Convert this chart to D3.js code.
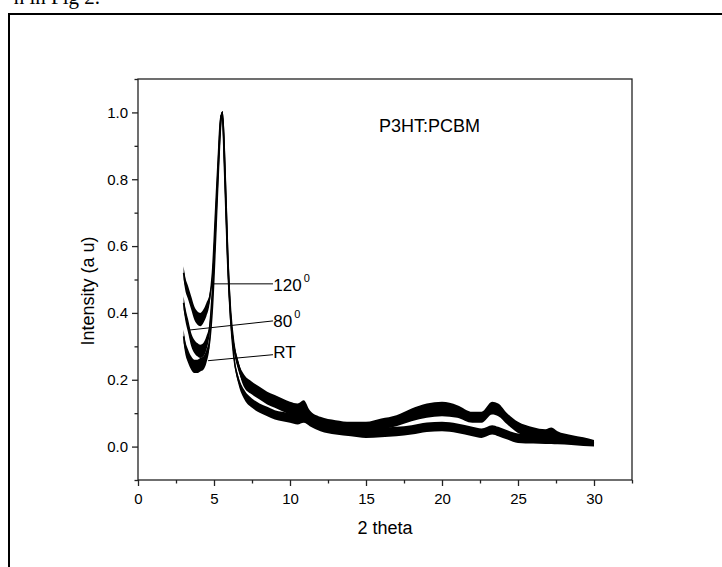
<!DOCTYPE html>
<html>
<head>
<meta charset="utf-8">
<script src="https://cdn.jsdelivr.net/npm/d3@7"></script>
<style>
  body { margin: 0; background: #fff; }
  svg text { font-family: "Liberation Sans", Arial, sans-serif; fill: #000; }
</style>
</head>
<body>
<div id="chart"></div>
<script>
/*
 * XRD patterns of P3HT:PCBM films (RT, 80 and 120 deg anneal)
 */

// 2 theta positions where the traces were read
var twoTheta = [3.0, 3.1, 3.3, 3.5, 3.7, 3.9, 4.1, 4.3, 4.5, 4.7, 4.9, 5.1, 5.3, 5.45, 5.55, 5.7, 5.9, 6.1, 6.3, 6.6,
  7.0, 7.5, 8.0, 8.5, 9.0, 9.5, 10.0, 10.5, 10.9, 11.3, 12, 13, 14, 15, 16, 17, 18, 19, 20, 21, 22, 22.6,
  23.3, 23.7, 24.3, 25, 26, 26.8, 27.2, 27.6, 28.5, 29.3, 30];

var int120 = [0.52, 0.49, 0.46, 0.43, 0.40, 0.385, 0.38, 0.39, 0.41, 0.44, 0.52, 0.70, 0.88, 0.99, 0.99, 0.82, 0.55, 0.38, 0.30, 0.24,
  0.20, 0.18, 0.165, 0.15, 0.14, 0.13, 0.12, 0.115, 0.125, 0.095, 0.075, 0.065, 0.06, 0.06, 0.07, 0.08, 0.10, 0.115, 0.12, 0.11, 0.09, 0.09,
  0.12, 0.115, 0.085, 0.06, 0.045, 0.04, 0.045, 0.035, 0.025, 0.018, 0.012];

var int80 = [0.43, 0.40, 0.36, 0.32, 0.30, 0.29, 0.285, 0.29, 0.31, 0.35, 0.47, 0.66, 0.86, 0.98, 1.0, 0.85, 0.57, 0.40, 0.31, 0.245,
  0.19, 0.17, 0.155, 0.14, 0.13, 0.12, 0.11, 0.105, 0.11, 0.09, 0.07, 0.06, 0.055, 0.055, 0.065, 0.075, 0.09, 0.10, 0.105, 0.10, 0.085, 0.085,
  0.11, 0.105, 0.08, 0.055, 0.04, 0.035, 0.04, 0.03, 0.022, 0.016, 0.01];

var intRT = [0.33, 0.30, 0.27, 0.25, 0.24, 0.24, 0.245, 0.25, 0.27, 0.31, 0.42, 0.62, 0.84, 0.97, 1.0, 0.86, 0.58, 0.38, 0.27, 0.20,
  0.155, 0.13, 0.115, 0.105, 0.095, 0.09, 0.085, 0.08, 0.085, 0.075, 0.06, 0.05, 0.045, 0.04, 0.042, 0.045, 0.05, 0.058, 0.06, 0.055, 0.045, 0.04,
  0.05, 0.045, 0.035, 0.025, 0.022, 0.02, 0.02, 0.018, 0.015, 0.012, 0.008];

// half width of the noise band seen on the traces (intensity units)
var noiseBand = [0.02, 0.02, 0.02, 0.02, 0.02, 0.02, 0.02, 0.02, 0.02, 0.015, 0.005, 0.004, 0.004, 0.004, 0.004, 0.004, 0.004, 0.005, 0.008, 0.012,
  0.014, 0.014, 0.014, 0.014, 0.014, 0.014, 0.014, 0.014, 0.014, 0.014, 0.014, 0.014, 0.014, 0.014, 0.014, 0.014, 0.014, 0.014, 0.014, 0.014, 0.014, 0.014,
  0.014, 0.014, 0.014, 0.014, 0.013, 0.012, 0.012, 0.011, 0.01, 0.01, 0.008];

var seriesNames = ["120", "80", "RT"];
var seriesValues = [int120, int80, intRT];

var xMajor = [0, 5, 10, 15, 20, 25, 30];
var xMinor = [2.5, 7.5, 12.5, 17.5, 22.5, 27.5, 32.5];
var yMajor = [0.0, 0.2, 0.4, 0.6, 0.8, 1.0];
var yMinor = [-0.1, 0.1, 0.3, 0.5, 0.7, 0.9, 1.1];

// leader lines [x1, y1, x2, y2] and label anchors, in data units
var leaderLines = [[4.93, 0.487, 8.88, 0.487], [3.42, 0.349, 8.88, 0.376], [4.61, 0.257, 8.88, 0.275]];
var labelPos = [[8.9, 0.466], [8.9, 0.358], [8.9, 0.266]];
var labelText = ["120", "80", "RT"];
var labelSup = ["0", "0", ""];

var margin = { top: 79, right: 90, bottom: 87, left: 138 },
  width = 722 - margin.left - margin.right,
  height = 567 - margin.top - margin.bottom;

var svg = d3.select("#chart")
  .append("svg")
  .attr("width", 722)
  .attr("height", 567);

// page bits around the figure
svg.append("text")
  .attr("x", 100)
  .attr("y", 4)
  .attr("text-anchor", "end")
  .style("font-family", "'Liberation Serif', 'Times New Roman', serif")
  .style("font-size", "21px")
  .text("n in Fig 2.");

svg.append("path")
  .attr("d", "M9,567V14H722")
  .attr("fill", "none")
  .attr("stroke", "#000")
  .attr("stroke-width", 2);

var g = svg.append("g")
  .attr("transform", "translate(" + margin.left + "," + margin.top + ")");

var x = d3.scaleLinear()
  .domain([0, 32.5])
  .range([0, width]);

var y = d3.scaleLinear()
  .domain([-0.1, 1.1])
  .range([height, 0]);

// traces
var band = d3.area()
  .x(function (d) { return x(d.x); })
  .y0(function (d) { return y(d.v - d.n); })
  .y1(function (d) { return y(d.v + d.n); })
  .curve(d3.curveMonotoneX);

var line = d3.line()
  .x(function (d) { return x(d.x); })
  .y(function (d) { return y(d.v); })
  .curve(d3.curveMonotoneX);

seriesValues.forEach(function (vals, i) {
  var pts = twoTheta.map(function (t, k) {
    return { x: t, v: vals[k], n: noiseBand[k] };
  });
  g.append("path")
    .datum(pts)
    .attr("class", "band s" + seriesNames[i])
    .attr("d", band)
    .attr("fill", "#000");
  g.append("path")
    .datum(pts)
    .attr("class", "trace s" + seriesNames[i])
    .attr("d", line)
    .attr("fill", "none")
    .attr("stroke", "#000")
    .attr("stroke-width", 1.6);
});

// frame
g.append("rect")
  .attr("width", width)
  .attr("height", height)
  .attr("fill", "none")
  .attr("stroke", "#222")
  .attr("stroke-width", 1.3);

// X axis
var xAxis = g.append("g")
  .attr("transform", "translate(0," + height + ")")
  .call(d3.axisBottom(x).tickValues(xMajor).tickSize(6).tickSizeOuter(0).tickPadding(7)
    .tickFormat(d3.format("d")));
g.append("g")
  .attr("transform", "translate(0," + height + ")")
  .call(d3.axisBottom(x).tickValues(xMinor).tickSize(3.5).tickSizeOuter(0).tickFormat(""));

// Y axis
var yAxis = g.append("g")
  .call(d3.axisLeft(y).tickValues(yMajor).tickSize(6).tickSizeOuter(0).tickPadding(4)
    .tickFormat(d3.format(".1f")));
g.append("g")
  .call(d3.axisLeft(y).tickValues(yMinor).tickSize(3.5).tickSizeOuter(0).tickFormat(""));

g.selectAll(".domain").remove();
g.selectAll(".tick line").attr("stroke", "#222").attr("stroke-width", 1.3);
g.selectAll(".tick text")
  .style("font-size", "15px")
  .style("font-family", "'Liberation Sans', Arial, sans-serif")
  .attr("fill", "#000");

// axis titles
g.append("text")
  .attr("x", width / 2)
  .attr("y", height + 54)
  .attr("text-anchor", "middle")
  .style("font-size", "18px")
  .text("2 theta");

g.append("text")
  .attr("transform", "rotate(-90)")
  .attr("x", -(291 - margin.top))
  .attr("y", -44)
  .attr("text-anchor", "middle")
  .style("font-size", "18px")
  .text("Intensity (a u)");

// sample name
g.append("text")
  .attr("x", x(15.86))
  .attr("y", y(0.942))
  .style("font-size", "18px")
  .text("P3HT:PCBM");

// curve labels
leaderLines.forEach(function (l) {
  g.append("line")
    .attr("x1", x(l[0]))
    .attr("y1", y(l[1]))
    .attr("x2", x(l[2]))
    .attr("y2", y(l[3]))
    .attr("stroke", "#000")
    .attr("stroke-width", 1);
});

labelPos.forEach(function (p, i) {
  var t = g.append("text")
    .attr("x", x(p[0]))
    .attr("y", y(p[1]))
    .style("font-size", "17px")
    .text(labelText[i]);
  if (labelSup[i]) {
    t.append("tspan")
      .attr("dx", 2)
      .attr("dy", -9)
      .style("font-size", "11px")
      .text(labelSup[i]);
  }
});
</script>
</body>
</html>
